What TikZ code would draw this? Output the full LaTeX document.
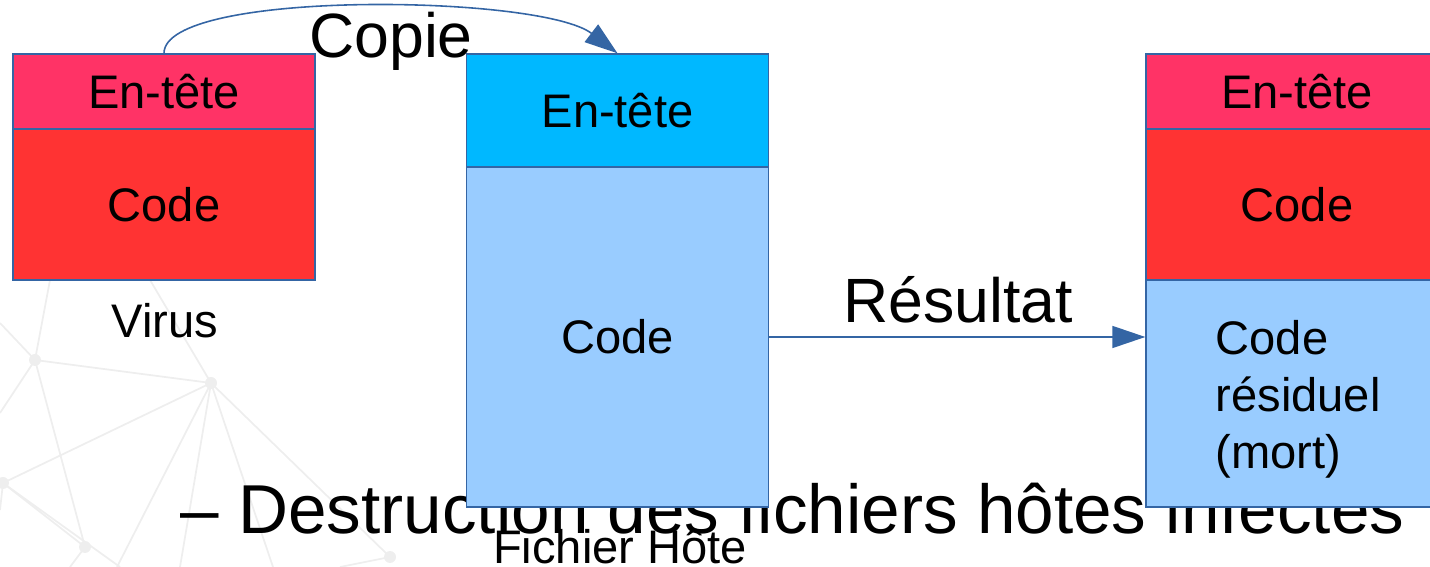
\documentclass[tikz,border=0pt]{standalone}
\usepackage{fontspec}
\setmainfont{Liberation Sans}
\usetikzlibrary{arrows.meta}
\definecolor{rose}{HTML}{FF3366}
\definecolor{rouge}{HTML}{FF3333}
\definecolor{cyan}{HTML}{00B8FF}
\definecolor{bleuclair}{HTML}{99CCFF}
\definecolor{bord}{HTML}{3465A4}
\definecolor{reseau}{HTML}{EEEEEE}
\tikzset{
  bloc/.style={draw=bord,line width=0.4pt,minimum width=3.02cm,inner sep=0pt,
    font=\fontsize{13.4}{16.2}\selectfont},
  fleche/.style={draw=bord,line width=0.45pt,-{Triangle[length=3.3mm,width=2.2mm]}},
  legende/.style={inner sep=0pt,font=\fontsize{13.4}{16.2}\selectfont},
  titre/.style={inner sep=0pt,font=\fontsize{17.8}{20}\selectfont}
}
\begin{document}
\begin{tikzpicture}
  \useasboundingbox (0,0) rectangle (14.30,-5.67);
  % reseau gris du fond
  \coordinate (na) at (0.35,-3.60);
  \coordinate (nb) at (2.11,-3.83);
  \coordinate (nc) at (0.03,-4.83);
  \coordinate (nd) at (0.85,-5.47);
  \coordinate (ne) at (3.90,-5.57);
  \begin{scope}[reseau,line width=0.5pt]
    \foreach \p/\q in {na/nb,na/nd,nb/nc,nb/ne,nc/nd}
      \draw (\p) -- (\q);
    \foreach \p/\q in {na/{0.50,-2.80},na/{0,-3.23},na/{0,-4.13},nb/{1.50,-2.80},
      nb/{1.17,-5.67},nb/{1.80,-5.67},nb/{2.73,-5.67},nc/{1.20,-5.67},nc/{0,-5.10},
      nd/{0.70,-5.67},ne/{3.40,-5.67}}
      \draw (\p) -- (\q);
    \foreach \p in {na,nb,nc,nd,ne}
      \fill (\p) circle (0.06);
  \end{scope}
  % texte de la diapo, sous les blocs
  \node[anchor=base west,inner sep=0pt,font=\fontsize{19.7}{22}\selectfont] (bas) at (1.80,-5.33)
    {– Destruction des fichiers hôtes infectés};
  % le virus
  \node[bloc,fill=rose,minimum height=0.75cm] (vHead) at (1.64,-0.915) {En-tête};
  \node[bloc,fill=rouge,minimum height=1.51cm] (vCode) at (1.64,-2.045) {Code};
  \node[legende,anchor=base] (vNom) at (1.65,-3.38) {Virus};
  % le fichier hote
  \node[bloc,fill=cyan,minimum height=1.13cm] (hHead) at (6.175,-1.105) {En-tête};
  \node[bloc,fill=bleuclair,minimum height=3.40cm] (hCode) at (6.175,-3.37) {Code};
  \node[legende,anchor=base] (hNom) at (6.20,-5.63) {Fichier Hôte};
  % le resultat
  \node[bloc,fill=rose,minimum height=0.75cm] (rHead) at (12.97,-0.915) {En-tête};
  \node[bloc,fill=rouge,minimum height=1.51cm] (rCode) at (12.97,-2.045) {Code};
  \node[bloc,fill=bleuclair,minimum height=2.27cm] (rRes) at (12.97,-3.935) {};
  \node[legende,anchor=west,align=left] (rTxt) at (12.15,-3.99) {Code\\résiduel\\(mort)};
  % les fleches
  \draw[fleche] (vHead.north) .. controls +(0,0.64) and +(-0.77,0.59) .. (hHead.north);
  \node[titre,anchor=base] (copie) at (3.91,-0.58) {Copie};
  \draw[fleche] (hCode.east) -- (hCode.east -| rRes.west);
  \node[titre,anchor=base] (resultat) at (9.58,-3.23) {Résultat};
\end{tikzpicture}
\end{document}
